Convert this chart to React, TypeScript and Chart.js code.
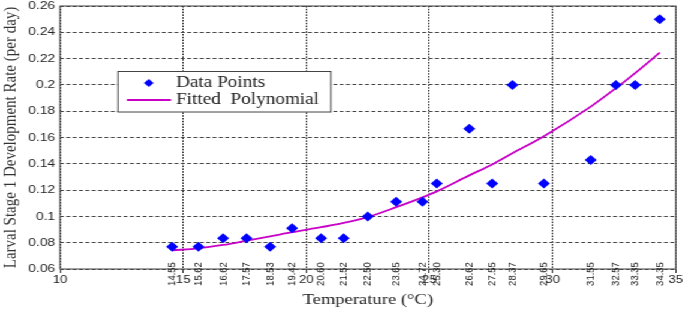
import React, { useEffect, useRef } from "react";
import { Chart, registerables } from "chart.js";

Chart.register(...registerables);

// ---- data ----
const temperatures = [14.55, 15.62, 16.62, 17.57, 18.53, 19.42, 20.6, 21.52, 22.5, 23.65, 24.72, 25.3, 26.62, 27.55, 28.37, 29.65, 31.55, 32.57, 33.35, 34.35];
const observedRates = [0.0769, 0.0769, 0.0833, 0.0833, 0.0769, 0.0909, 0.0833, 0.0833, 0.1, 0.1111, 0.1111, 0.125, 0.1667, 0.125, 0.2, 0.125, 0.1429, 0.2, 0.2, 0.25];
const fittedRates = [0.0742, 0.0757, 0.0783, 0.0815, 0.0848, 0.088, 0.0918, 0.095, 0.0995, 0.107, 0.1145, 0.119, 0.1312, 0.1395, 0.148, 0.161, 0.1835, 0.1975, 0.209, 0.2245];
const seriesNames = ["Data Points", "Fitted  Polynomial"];
const xTitle = "Temperature (\u00B0C)";
const yTitle = "Larval Stage 1 Development Rate (per day)";

const INNER_W = 571;
const OUTER_W = 685;
const H = 309;

const SANS = '"Liberation Sans", Arial, sans-serif';
const SERIF = '"Liberation Serif", "Times New Roman", serif';
const POINT_COLOR = "#0000FF";
const CURVE_COLOR = "#C800C8";

export default function App() {
  const ref = useRef<HTMLCanvasElement>(null);

  useEffect(() => {
    const canvas = ref.current;
    if (!canvas) return;

    const framePlugin = {
      id: "frame",
      afterDraw(chart: any) {
        const { ctx, chartArea } = chart;
        ctx.save();
        ctx.strokeStyle = "#444";
        ctx.lineWidth = 1;
        ctx.strokeRect(chartArea.left, chartArea.top, chartArea.right - chartArea.left, chartArea.bottom - chartArea.top);
        ctx.restore();
      },
    };

    const sampleLabelPlugin = {
      id: "sampleLabels",
      afterDraw(chart: any) {
        const { ctx, chartArea } = chart;
        const xs = chart.scales.x;
        ctx.save();
        ctx.font = `9.5px ${SANS}`;
        ctx.fillStyle = "#222";
        ctx.textAlign = "center";
        ctx.textBaseline = "middle";
        const y = chartArea.bottom + 5;
        temperatures.forEach((t) => {
          const x = xs.getPixelForValue(t);
          ctx.save();
          ctx.translate(x, y);
          ctx.rotate(-Math.PI / 2);
          ctx.fillText(t.toFixed(2), 0, 0);
          ctx.restore();
        });
        ctx.restore();
      },
    };

    const legendPlugin = {
      id: "boxLegend",
      afterDraw(chart: any) {
        const { ctx, chartArea } = chart;
        const bx = chartArea.left + 48.3;
        const by = chartArea.top + 65.5;
        const bw = 177.5;
        const bh = 40.5;
        ctx.save();
        ctx.fillStyle = "#fff";
        ctx.fillRect(bx, by, bw, bh);
        ctx.strokeStyle = "#444";
        ctx.lineWidth = 1;
        ctx.strokeRect(bx, by, bw, bh);
        // marker
        const mx = bx + 25.7;
        const my = by + 11.5;
        ctx.fillStyle = POINT_COLOR;
        ctx.beginPath();
        ctx.moveTo(mx, my - 4);
        ctx.lineTo(mx + 4, my);
        ctx.lineTo(mx, my + 4);
        ctx.lineTo(mx - 4, my);
        ctx.closePath();
        ctx.fill();
        // line sample
        const ly = by + 28.5;
        ctx.strokeStyle = CURVE_COLOR;
        ctx.lineWidth = 2;
        ctx.beginPath();
        ctx.moveTo(bx + 7.5, ly);
        ctx.lineTo(bx + 44.2, ly);
        ctx.stroke();
        // text
        ctx.fillStyle = "#222";
        ctx.font = `16px ${SERIF}`;
        ctx.textAlign = "left";
        ctx.textBaseline = "middle";
        ctx.fillText(seriesNames[0], bx + 48.4, my);
        ctx.fillText(seriesNames[1], bx + 48.4, ly);
        ctx.restore();
      },
    };

    const chart = new Chart(canvas, {
      type: "scatter",
      data: {
        datasets: [
          {
            label: seriesNames[0],
            data: temperatures.map((t, i) => ({ x: t, y: observedRates[i] })),
            showLine: false,
            pointStyle: "rectRot",
            pointRadius: 5,
            pointHoverRadius: 5,
            backgroundColor: POINT_COLOR,
            borderColor: POINT_COLOR,
            borderWidth: 0,
          },
          {
            label: seriesNames[1],
            data: temperatures.map((t, i) => ({ x: t, y: fittedRates[i] })),
            showLine: true,
            pointRadius: 0,
            pointHoverRadius: 0,
            borderColor: CURVE_COLOR,
            backgroundColor: CURVE_COLOR,
            borderWidth: 1.8,
            tension: 0.4,
            cubicInterpolationMode: "monotone",
          },
        ],
      },
      options: {
        animation: false,
        responsive: false,
        devicePixelRatio: 1,
        layout: { padding: { top: 6, right: 7.7, bottom: 0, left: 0 } },
        plugins: {
          legend: { display: false },
          tooltip: { enabled: false },
        },
        scales: {
          x: {
            type: "linear",
            min: 10,
            max: 35,
            ticks: {
              stepSize: 5,
              color: "#222",
              font: { family: SANS, size: 11 },
              padding: 0,
              maxRotation: 0,
            },
            grid: {
              color: "#111",
              lineWidth: 1,
              drawTicks: true,
              tickLength: 4,
              tickColor: "#333",
            },
            border: { display: false, dash: [1.5, 1.3] },
            title: {
              display: true,
              text: xTitle,
              color: "#222",
              font: { family: SERIF, size: 15.5 },
              padding: { top: 0, bottom: 0 },
            },
            afterFit(scale: any) {
              scale.height = 40;
              scale.paddingLeft = 0;
              scale.paddingRight = 0;
            },
          },
          y: {
            type: "linear",
            min: 0.06,
            max: 0.26,
            ticks: {
              stepSize: 0.02,
              color: "#222",
              font: { family: SANS, size: 11.5 },
              padding: 4,
              callback: (v: any) => String(Number(Number(v).toFixed(2))),
            },
            grid: {
              color: "#444",
              lineWidth: 1,
              drawTicks: false,
            },
            border: { display: false, dash: [3.2, 2.1] },
            title: {
              display: true,
              text: yTitle,
              color: "#333",
              font: { family: SERIF, size: 15 },
              padding: { top: 0, bottom: 0 },
            },
            afterFit(scale: any) {
              scale.width = 50;
              scale.paddingTop = 0;
              scale.paddingBottom = 0;
            },
          },
        },
      },
      plugins: [framePlugin, sampleLabelPlugin, legendPlugin],
    } as any);

    return () => chart.destroy();
  }, []);

  return (
    <div
      style={{
        position: "fixed",
        left: 0,
        top: 0,
        width: INNER_W,
        height: H,
        background: "#fff",
        transform: `scaleX(${OUTER_W / INNER_W})`,
        transformOrigin: "0 0",
      }}
    >
      <canvas ref={ref} width={INNER_W} height={H} style={{ display: "block" }} />
    </div>
  );
}
